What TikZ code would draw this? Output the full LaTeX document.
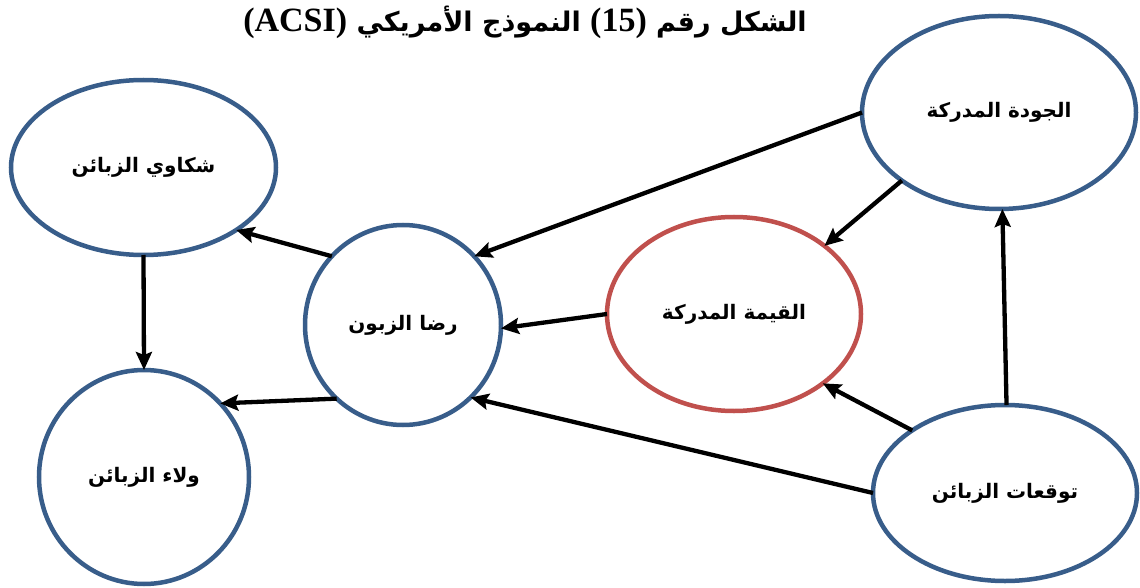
\documentclass[tikz,border=0pt]{standalone}
\usepackage{fontspec}
\usetikzlibrary{shapes.geometric,arrows.meta}
\TeXXeTstate=1
\newfontfamily\arabicfont[Script=Arabic]{DejaVu Sans}
\newfontfamily\latinserif{Liberation Serif}
\definecolor{bubbleblue}{HTML}{385D8A}
\definecolor{bubblered}{HTML}{C0504D}
\tikzset{
  bubble/.style={ellipse, draw=bubbleblue, line width=4.5pt, fill=white,
    inner sep=0pt, outer sep=0pt,
    font=\arabicfont\bfseries\fontsize{20}{24}\selectfont},
  redbubble/.style={bubble, draw=bubblered},
  link/.style={line width=4.3pt, black,
    -{Stealth[length=18pt,width=16pt,inset=3pt]}},
}
\begin{document}
\begin{tikzpicture}[x=1pt,y=-1pt]
\useasboundingbox (0,0) rectangle (1140,588);

% title
\node (title) at (525,22) {\arabicfont\bfseries\fontsize{27}{30}\selectfont
  \beginR الشكل رقم \beginL{\latinserif\bfseries\fontsize{34}{36}\selectfont (15)}\endL{} النموذج الأمريكي \beginL{\latinserif\bfseries\fontsize{34}{36}\selectfont (ACSI)}\endL\endR};

% constructs
\node[bubble, minimum width=265pt, minimum height=175pt] (comp) at (143.5,167.5)
  {\beginR شكاوي الزبائن\endR};
\node[bubble, minimum width=210pt, minimum height=214pt] (loyal) at (144,477)
  {\beginR ولاء الزبائن\endR};
\node[bubble, minimum width=196pt, minimum height=200pt] (sat) at (403,325)
  {\beginR رضا الزبون\endR};
\node[redbubble, minimum width=254pt, minimum height=194pt] (value) at (734,314)
  {\beginR القيمة المدركة\endR};
\node[bubble, minimum width=274pt, minimum height=193pt] (quality) at (999,112.5)
  {\beginR الجودة المدركة\endR};
\node[bubble, minimum width=264pt, minimum height=176pt] (expect) at (1005,493)
  {\beginR توقعات الزبائن\endR};

% relations
\draw[link] (sat.136) -- (comp.-34);
\draw[link] (comp.-90) -- (loyal.90);
\draw[link] (sat.228) -- (loyal.44.6);
\draw[link] (value.180) -- (sat.-2);
\draw[link] (quality.180) -- (sat.44);
\draw[link] (quality.215.6) -- (value.37.7);
\draw[link] (expect.146.7) -- (value.-38);
\draw[link] (expect.180) -- (sat.-47);
\draw[link] (expect.89) -- (quality.-88);
\end{tikzpicture}
\end{document}
